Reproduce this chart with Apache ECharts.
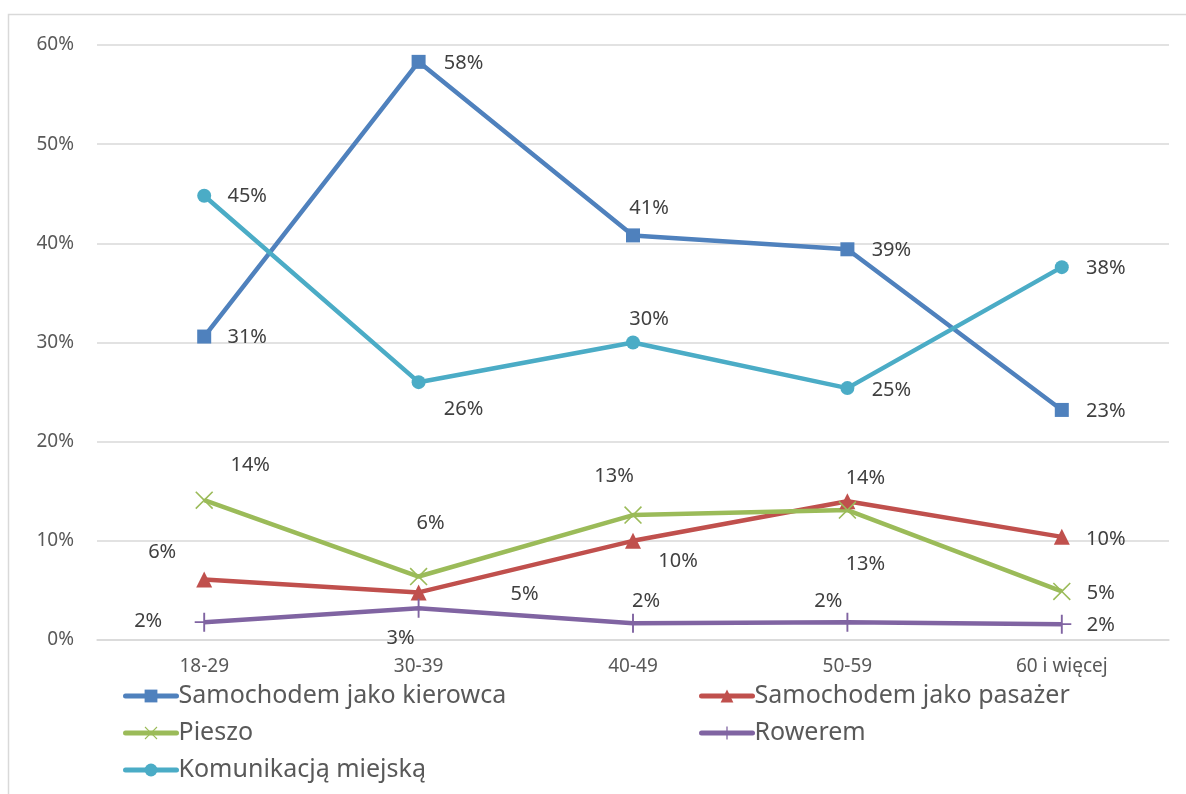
<!DOCTYPE html>
<html>
<head>
<meta charset="utf-8">
<script src="https://cdn.jsdelivr.net/npm/echarts@6/dist/echarts.min.js"></script>
<style>
html,body{margin:0;padding:0;background:#fff;}
#main{width:1186px;height:794px;}
</style>
</head>
<body>
<div id="main"></div>
<script>
const categories = ['18-29', '30-39', '40-49', '50-59', '60 i więcej'];
const seriesNames = ['Samochodem jako kierowca', 'Samochodem jako pasażer', 'Pieszo', 'Rowerem', 'Komunikacją miejską'];
const kierowca = [30.6, 58.3, 40.8, 39.4, 23.2];
const pasazer = [6.1, 4.8, 10.0, 14.0, 10.4];
const pieszo = [14.1, 6.4, 12.6, 13.1, 4.9];
const rowerem = [1.8, 3.2, 1.7, 1.8, 1.6];
const komunikacja = [44.8, 26.0, 30.0, 25.4, 37.6];
const yTicks = [0, 10, 20, 30, 40, 50, 60];

// label offsets (pixels from the point), one per point
const offKierowca = [[43,1],[45,1],[16,-27],[44,1],[44,1]];
const offPasazer = [[-42,-27],[106,2],[45,20],[18,-23],[44,2]];
const offPieszo = [[46,-35],[12,-53],[-19,-39],[18,54],[39,2]];
const offRowerem = [[-56,-1],[-18,30],[13,-22],[-19,-21],[39,1]];
const offKomunikacja = [[43,1],[45,27],[16,-23],[44,2],[44,1]];

const colors = ['#4F81BD', '#C0504D', '#9BBB59', '#8064A2', '#4BACC6'];
const FONT = '"Noto Sans", "Open Sans", sans-serif';

const xSymbol = 'path://M0,1 L1,0 L8,7 L15,0 L16,1 L9,8 L16,15 L15,16 L8,9 L1,16 L0,15 L7,8 Z';
const plusSymbol = 'path://M7.2,0 L8.8,0 L8.8,7.2 L16,7.2 L16,8.8 L8.8,8.8 L8.8,16 L7.2,16 L7.2,8.8 L0,8.8 L0,7.2 L7.2,7.2 Z';

function mk(name, values, offs, color, symbol, size) {
  return {
    name: name,
    type: 'line',
    data: values.map((v, i) => ({
      value: v,
      label: { offset: offs[i] }
    })),
    symbol: symbol,
    symbolSize: size,
    showAllSymbol: true,
    lineStyle: { width: 4.5, color: color },
    itemStyle: { color: color, borderWidth: 0 },
    label: {
      show: true,
      position: 'inside',
      formatter: p => Math.round(p.value) + '%',
      color: '#404040',
      fontSize: 20,
      fontFamily: FONT
    },
    emphasis: { disabled: true },
    animation: false
  };
}

const legendCommon = {
  orient: 'vertical',
  top: 677,
  itemWidth: 51,
  itemHeight: 16,
  itemGap: 9,
  lineStyle: { width: 5, cap: 'round' },
  textStyle: { color: '#595959', fontSize: 25, fontFamily: FONT, lineHeight: 28, padding: [0, 0, 0, -3] }
};

const chart = echarts.init(document.getElementById('main'));
chart.setOption({
  backgroundColor: '#ffffff',
  animation: false,
  graphic: [{
    type: 'rect',
    shape: { x: 8.5, y: 14.5, width: 1250, height: 850 },
    style: { fill: 'none', stroke: '#d9d9d9', lineWidth: 1.5 },
    silent: true
  }],
  grid: { left: 97, right: 17, top: 45, bottom: 154 },
  xAxis: {
    type: 'category',
    data: categories,
    boundaryGap: true,
    axisLine: { show: true, lineStyle: { color: '#d9d9d9', width: 1.5 } },
    axisTick: { show: false },
    axisLabel: { color: '#595959', fontSize: 19, fontFamily: FONT, margin: 17 }
  },
  yAxis: {
    type: 'value',
    min: yTicks[0],
    max: yTicks[yTicks.length - 1],
    interval: 10,
    axisLine: { show: false },
    axisTick: { show: false },
    splitLine: { lineStyle: { color: '#d9d9d9', width: 1.5 } },
    axisLabel: { color: '#595959', fontSize: 19, fontFamily: FONT, margin: 23, formatter: '{value}%' }
  },
  legend: [
    Object.assign({}, legendCommon, { left: 118, data: [seriesNames[0], seriesNames[2], seriesNames[4]] }),
    Object.assign({}, legendCommon, { left: 694, data: [seriesNames[1], seriesNames[3]] })
  ],
  series: [
    mk(seriesNames[0], kierowca, offKierowca, colors[0], 'rect', 14),
    mk(seriesNames[1], pasazer, offPasazer, colors[1], 'triangle', 16),
    mk(seriesNames[2], pieszo, offPieszo, colors[2], xSymbol, 18),
    mk(seriesNames[3], rowerem, offRowerem, colors[3], plusSymbol, 19),
    mk(seriesNames[4], komunikacja, offKomunikacja, colors[4], 'circle', 14)
  ]
});
</script>
</body>
</html>
